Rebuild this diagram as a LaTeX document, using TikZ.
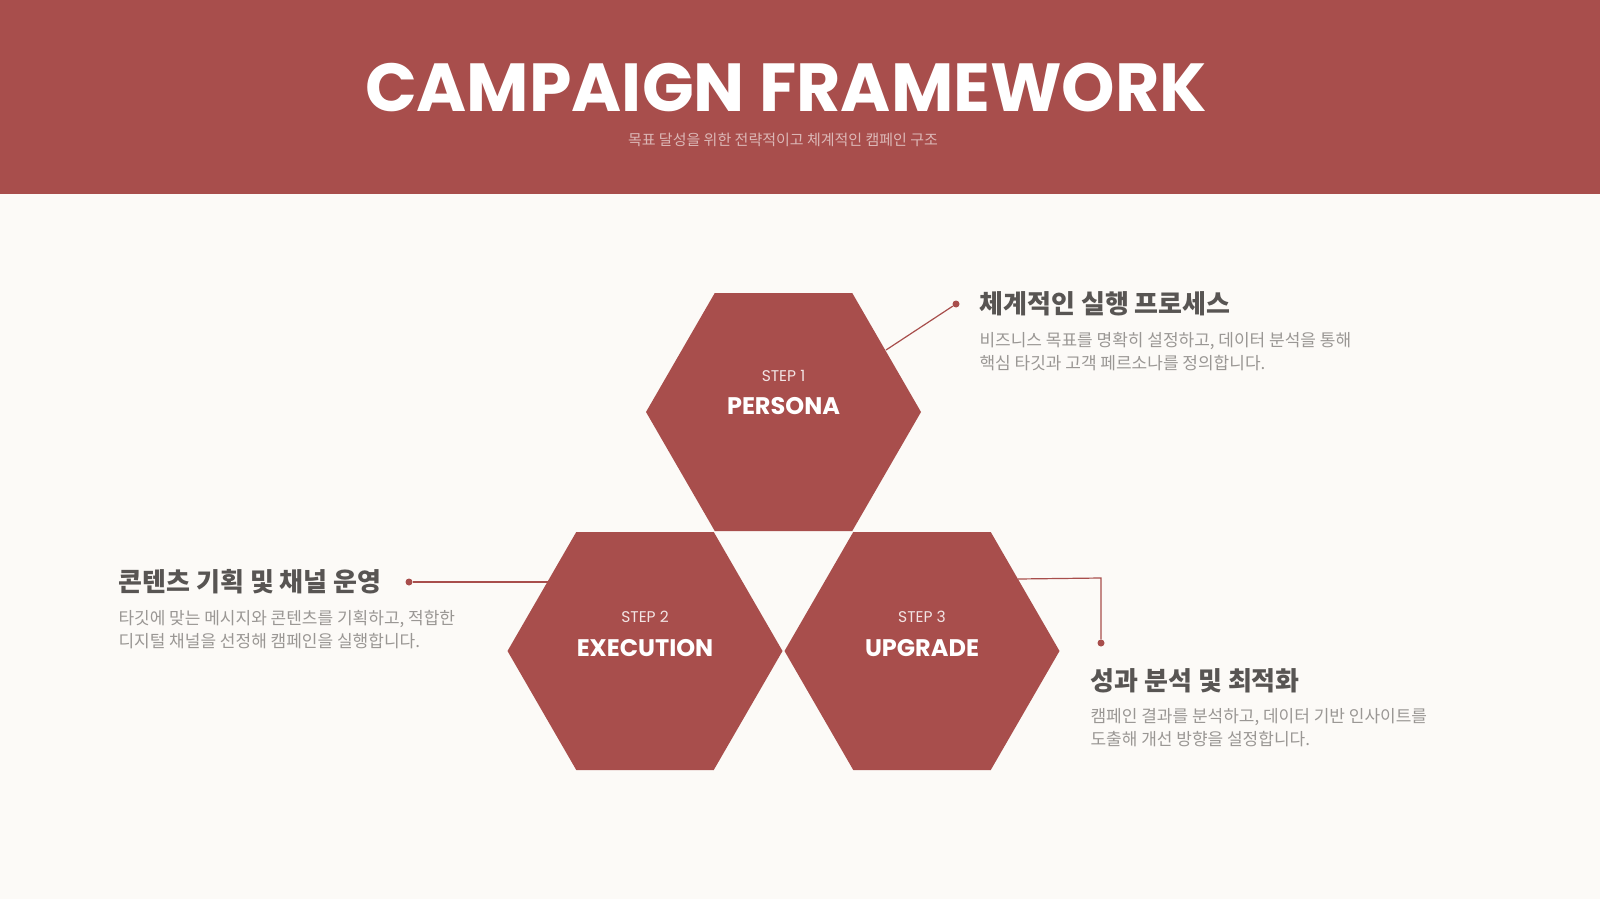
\documentclass[tikz,border=0pt]{standalone}
\usepackage{fontspec}
\setmainfont{Poppins}
\newfontfamily\kr{Noto Sans CJK KR}
\definecolor{brick}{HTML}{A84E4C}
\definecolor{bg}{HTML}{FCFAF7}
\definecolor{head}{HTML}{585553}
\definecolor{body}{HTML}{9A9794}
\begin{document}
\begin{tikzpicture}[x=1pt,y=-1pt,
  hex/.style={fill=brick,draw=none},
  stp/.style={text=white!85!brick,font=\fontsize{15.5}{15}\selectfont},
  ttl/.style={text=white,font=\bfseries\fontsize{24}{24}\selectfont},
  hd/.style={anchor=west,text=head,font=\kr\bfseries\fontsize{26}{26}\selectfont},
  bd/.style={anchor=north west,text=body,align=left,font=\kr\fontsize{17}{23}\selectfont},
  conn/.style={draw=brick,line width=1.2pt},
  dot/.style={circle,fill=brick,inner sep=0pt,minimum size=7pt}]
\fill[bg] (0,0) rectangle (1600,899);
\useasboundingbox (0,0) rectangle (1600,899);
\fill[brick] (0,0) rectangle (1600,194);
\node[text=white,font=\bfseries\fontsize{68}{68}\selectfont,inner sep=0pt] (t) at (786,88) {CAMPAIGN FRAMEWORK};
\node[text=white!60!brick,font=\kr\fontsize{15}{15}\selectfont,inner sep=0pt] (st) at (783,140) {목표 달성을 위한 전략적이고 체계적인 캠페인 구조};
\foreach \cx/\cy in {783.5/412,645/651,922/651}{
  \fill[hex] (\cx-137.5,\cy) -- (\cx-68.75,\cy-119) -- (\cx+68.75,\cy-119) -- (\cx+137.5,\cy) -- (\cx+68.75,\cy+119) -- (\cx-68.75,\cy+119) -- cycle;
}
\node[stp] (s1) at (783.5,376) {STEP 1};
\node[ttl] (p1) at (783.5,406) {PERSONA};
\node[stp] (s2) at (645,617) {STEP 2};
\node[ttl] (p2) at (645,648) {EXECUTION};
\node[stp] (s3) at (922,617) {STEP 3};
\node[ttl] (p3) at (922,648) {UPGRADE};
\coordinate (a1) at (886,350);
\node[dot] (d1) at (956,304) {};
\draw[conn] (a1) -- (d1);
\coordinate (a2) at (548,582);
\node[dot] (d2) at (409,582) {};
\draw[conn] (a2) -- (d2);
\coordinate (a3) at (1018,579);
\node[dot] (d3) at (1101,643) {};
\draw[conn] (a3) -- (1101,578) -- (d3);
\node[hd] (t1) at (976,304) {체계적인 실행 프로세스};
\node[bd] (b1) at (976,329) {비즈니스 목표를 명확히 설정하고, 데이터 분석을 통해\\핵심 타깃과 고객 페르소나를 정의합니다.};
\node[hd] (t2) at (115,582) {콘텐츠 기획 및 채널 운영};
\node[bd] (b2) at (115,607) {타깃에 맞는 메시지와 콘텐츠를 기획하고, 적합한\\디지털 채널을 선정해 캠페인을 실행합니다.};
\node[hd] (t3) at (1087,681) {성과 분석 및 최적화};
\node[bd] (b3) at (1087,705) {캠페인 결과를 분석하고, 데이터 기반 인사이트를\\도출해 개선 방향을 설정합니다.};
\end{tikzpicture}
\end{document}
